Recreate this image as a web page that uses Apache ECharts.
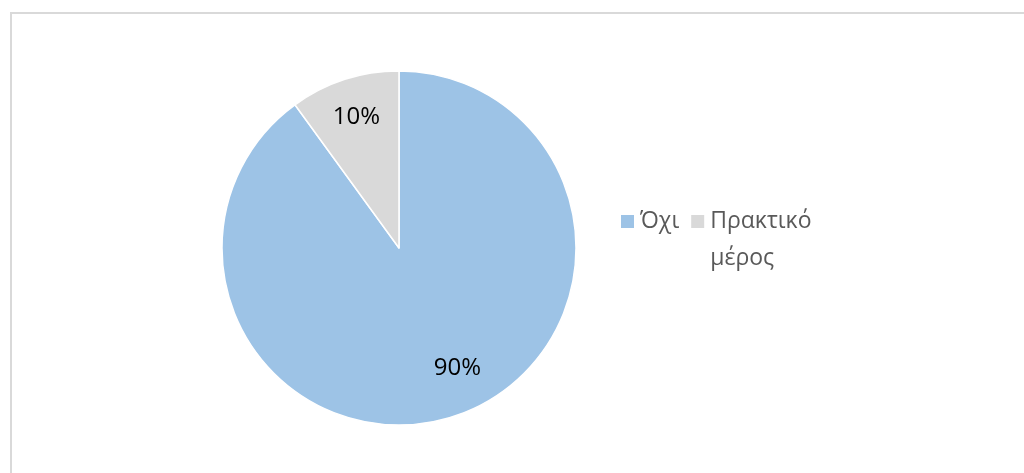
<!DOCTYPE html>
<html>
<head>
<meta charset="utf-8">
<script src="https://cdn.jsdelivr.net/npm/echarts@6/dist/echarts.min.js"></script>
<style>
html,body{margin:0;padding:0;background:#fff;}
#frame{position:absolute;left:10px;top:12px;width:1100px;height:600px;border:2px solid #d9d9d9;box-sizing:border-box;}
#chart{position:absolute;left:0;top:0;width:1024px;height:473px;}
</style>
</head>
<body>
<div id="frame"></div>
<div id="chart"></div>
<script>
const categories = ['Όχι', 'Πρακτικό μέρος'];
const legendLabels = ['Όχι', 'Πρακτικό\nμέρος'];
const values = [90, 10];
const percentLabels = ['90%', '10%'];
const colors = ['#9DC3E6', '#D9D9D9'];

const chart = echarts.init(document.getElementById('chart'));
const font = '"Open Sans", "Noto Sans", sans-serif';
const labelOffsets = [[16, -11], [0, 0]];
const data = categories.map((c, i) => ({ name: c, value: values[i], itemStyle: { color: colors[i] } }));
const labelData = categories.map((c, i) => ({ name: c, value: values[i], label: { formatter: percentLabels[i], offset: labelOffsets[i] } }));
chart.setOption({
  animation: false,
  backgroundColor: 'transparent',
  legend: {
    orient: 'horizontal',
    left: 614,
    top: 161,
    itemWidth: 15,
    itemHeight: 15,
    itemGap: 10,
    icon: 'rect',
    data: categories,
    formatter: function (name) {
      const lbl = legendLabels[categories.indexOf(name)];
      const n = lbl.split('\n').length;
      // pad with empty lines above so the first line sits level with the icon
      return '\n'.repeat(n - 1) + lbl;
    },
    textStyle: { fontFamily: font, fontSize: 23, color: '#595959', lineHeight: 37 }
  },
  series: [
    {
      type: 'pie',
      center: [399, 248],
      radius: [0, 177],
      startAngle: 90,
      clockwise: true,
      data: data,
      label: { show: false },
      labelLine: { show: false },
      itemStyle: { borderColor: '#fff', borderWidth: 1.5 },
      emphasis: { disabled: true }
    },
    {
      type: 'pie',
      center: [399, 248],
      radius: [92, 177],
      startAngle: 90,
      clockwise: true,
      silent: true,
      data: labelData,
      itemStyle: { color: 'rgba(0,0,0,0)' },
      label: { show: true, position: 'inside', fontFamily: font, fontSize: 24, color: '#000' },
      labelLine: { show: false },
      emphasis: { disabled: true },
      legendHoverLink: false
    }
  ]
});
</script>
</body>
</html>
